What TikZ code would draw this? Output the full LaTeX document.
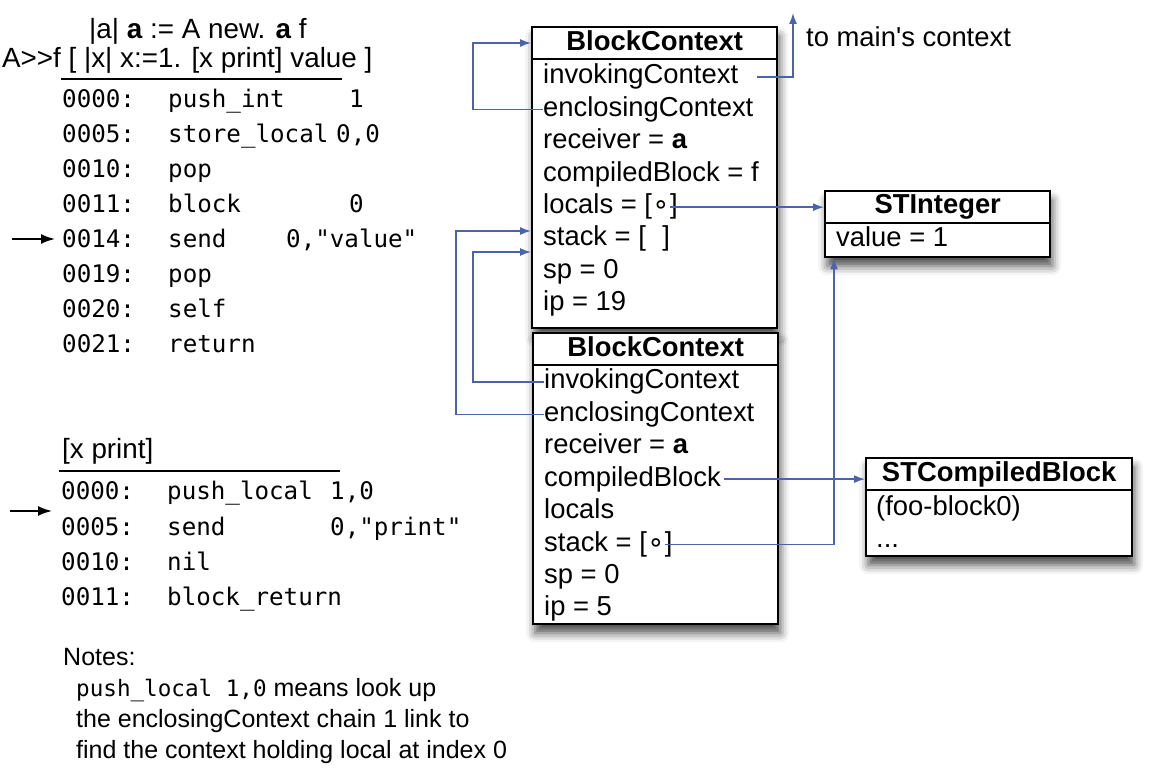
\documentclass[tikz,border=0pt]{standalone}
\usepackage{fontspec}
\setmainfont{Liberation Sans}[Ligatures=TeXOff]
\newfontfamily\codefont{DejaVu Sans Mono}[Ligatures=TeXOff]
\newfontfamily\symfont{DejaVu Sans}
\usetikzlibrary{shadows.blur,arrows.meta,calc}

\definecolor{linkblue}{RGB}{74,99,171}

\tikzset{
  objbox/.style={draw=black, line width=2.4pt, fill=white, anchor=north west,
    inner sep=0pt,
    blur shadow={shadow xshift=2pt, shadow yshift=-9pt,
      shadow blur radius=9pt, shadow opacity=70}},
  sepline/.style={draw=black, line width=2pt},
  boxtitle/.style={font=\fontsize{27.4}{32}\selectfont\bfseries, anchor=base, inner sep=0pt},
  field/.style={font=\fontsize{27.4}{32}\selectfont, anchor=base west, inner sep=0pt},
  hdr/.style={font=\fontsize{27.8}{32}\selectfont, anchor=base west, inner sep=0pt},
  note/.style={font=\fontsize{25}{30}\selectfont, anchor=base west, inner sep=0pt},
  code/.style={font=\codefont\fontsize{24.2}{30}\selectfont, anchor=base west, inner sep=0pt},
  link/.style={draw=linkblue, line width=1.4pt},
  linkarrow/.style={link, -{Latex[length=11pt,width=8pt]}},
  pcarrow/.style={draw=black, line width=1.8pt, -{Latex[length=14pt,width=10pt]}},
  rule/.style={draw=black, line width=2pt},
}

\newcommand\smallcirc{{\symfont ∘}}

\begin{document}
\begin{tikzpicture}[x=1pt,y=-1pt]
\useasboundingbox (0,0) rectangle (1165,783);

% ---------- source and bytecode of the method ----------
\node[hdr] (hdr1) at (89,39) {|a| \textbf{a} := A new. \textbf{a} f};
\node[hdr] (hdr2) at (2,68) {A>>f [ |x| x:=1. [x print] value ]};
\draw[rule] (61,79) -- (342,79);

\foreach \i/\a/\o/\v/\vx in {0/0000:/push\_int/1/349,
                            1/0005:/store\_local/{0,0}/336,
                            2/0010:/pop//349,
                            3/0011:/block/0/349,
                            4/0014:/send/{0,"value"}/286,
                            5/0019:/pop//349,
                            6/0020:/self//349,
                            7/0021:/return//349} {
  \node[code] (ma\i) at (62,{108+35*\i}) {\a};
  \node[code] (mo\i) at (168,{108+35*\i}) {\o};
  \node[code] (mv\i) at (\vx,{108+35*\i}) {\v};
}

\coordinate (pc1) at (12,239);
\draw[pcarrow] (pc1) -- ($(pc1 -| ma4.west)+(-7,0)$);

% ---------- bytecode of the block ----------
\node[hdr] (hdr3) at (62,459) {[x print]};
\draw[rule] (59,471) -- (340,471);

\foreach \i/\a/\o/\v in {0/0000:/push\_local/{1,0},
                        1/0005:/send/{0,"print"},
                        2/0010:/nil/,
                        3/0011:/block\_return/} {
  \node[code] (ba\i) at (61,{500+35*\i}) {\a};
  \node[code] (bo\i) at (167,{500+35*\i}) {\o};
  \node[code] (bv\i) at (330,{500+35*\i}) {\v};
}

\coordinate (pc2) at (10,511);
\draw[pcarrow] (pc2) -- ($(pc2 -| ba1.west)+(-9,0)$);

% ---------- notes ----------
\node[note] (n0) at (63,665) {Notes:};
\node[note] (n1) at (76,696) {{\codefont\fontsize{22.6}{30}\selectfont push\_local 1,0} means look up};
\node[note] (n2) at (76,727) {the enclosingContext chain 1 link to};
\node[note] (n3) at (76,758) {find the context holding local at index 0};

% ---------- objects ----------
\node[objbox, minimum width=245, minimum height=301] (b1) at (531,26) {};
\node[objbox, minimum width=245, minimum height=291] (b2) at (532,332) {};
\node[objbox, minimum width=225, minimum height=66] (sti) at (824,190) {};
\node[objbox, minimum width=266, minimum height=98] (scb) at (865,457) {};

\foreach \b in {b1,b2,sti,scb}
  \draw[sepline] ($(\b.north west)+(0,33)$) -- ($(\b.north east)+(0,33)$);

% upper BlockContext
\node[boxtitle] (b1t) at ($(b1.north)+(0,25)$) {BlockContext};
\node[field] (b1inv) at ($(b1.north west)+(12,58)$) {invokingContext};
\node[field] (b1enc) at ($(b1.north west)+(12,90.4)$) {enclosingContext};
\node[field] (b1rcv) at ($(b1.north west)+(12,122.8)$) {receiver = \textbf{a}};
\node[field] (b1cb)  at ($(b1.north west)+(12,155.2)$) {compiledBlock = f};
\node[field] (b1loc) at ($(b1.north west)+(12,187.6)$) {locals = [};
\node[field] (b1lc)  at (b1loc.base east) {\smallcirc};
\node[field] (b1lr)  at (b1lc.base east) {]};
\node[field] (b1stk) at ($(b1.north west)+(12,220)$) {stack = [\hspace{0.6em}]};
\node[field] (b1sp)  at ($(b1.north west)+(12,252.4)$) {sp = 0};
\node[field] (b1ip)  at ($(b1.north west)+(12,284.8)$) {ip = 19};

% lower BlockContext
\node[boxtitle] (b2t) at ($(b2.north)+(0,25)$) {BlockContext};
\node[field] (b2inv) at ($(b2.north west)+(12,57)$) {invokingContext};
\node[field] (b2enc) at ($(b2.north west)+(12,89.4)$) {enclosingContext};
\node[field] (b2rcv) at ($(b2.north west)+(12,121.8)$) {receiver = \textbf{a}};
\node[field] (b2cb)  at ($(b2.north west)+(12,154.2)$) {compiledBlock};
\node[field] (b2loc) at ($(b2.north west)+(12,186.6)$) {locals};
\node[field] (b2stk) at ($(b2.north west)+(12,219)$) {stack = [};
\node[field] (b2sc)  at (b2stk.base east) {\smallcirc};
\node[field] (b2sr)  at (b2sc.base east) {]};
\node[field] (b2sp)  at ($(b2.north west)+(12,251.4)$) {sp = 0};
\node[field] (b2ip)  at ($(b2.north west)+(12,283.8)$) {ip = 5};

% STInteger
\node[boxtitle] (stit) at ($(sti.north)+(0,24)$) {STInteger};
\node[field] (stiv) at ($(sti.north west)+(12,57)$) {value = 1};

% STCompiledBlock
\node[boxtitle] (scbt) at ($(scb.north)+(0,24)$) {STCompiledBlock};
\node[field] (scbn) at ($(scb.north west)+(11,58)$) {(foo-block0)};
\node[field] (scbd) at ($(scb.north west)+(11,90)$) {...};

% ---------- references ----------
\coordinate (mainctx) at (793,13);
\node[field] (mainlbl) at (806,47) {to main's context};

\draw[linkarrow] ($(b1inv.east)+(19,0)$) -| (mainctx);
\draw[linkarrow] (b1enc.west) -- ++(-70,0) |- ($(b1.north west)+(0,17)$);
\draw[linkarrow] (b1lc.east) -- (b1lc.east -| sti.west);
\draw[linkarrow] (b2inv.west) -- ++(-71,0) |- ($(b1.north west)+(0,226)$);
\draw[linkarrow] (b2enc.west) -- ++(-88,0) |- ($(b1.north west)+(0,205)$);
\draw[linkarrow] ($(b2cb.east)+(3,0)$) -- (b2cb.east -| scb.west);
\draw[linkarrow] (b2sc.east) -| ($(sti.south west)+(10,0)$);
\end{tikzpicture}
\end{document}
